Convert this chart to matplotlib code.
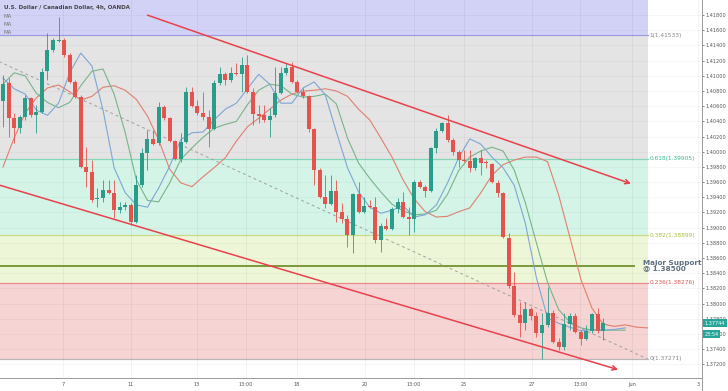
import numpy as np
import matplotlib
matplotlib.use("Agg")
import matplotlib.pyplot as plt

# --- 4h candles (USD/CAD, OANDA) ---
opens = [1.40668, 1.40906, 1.40445, 1.40313, 1.40458, 1.40708, 1.40484, 1.40524, 1.41064, 1.41340,
         1.41460, 1.41472, 1.41274, 1.40919, 1.40721, 1.39799, 1.39733, 1.39377, 1.39391, 1.39496,
         1.39456, 1.39233, 1.39272, 1.39298, 1.39074, 1.39562, 1.39983, 1.40168, 1.40115, 1.40589,
         1.40445, 1.40142, 1.39904, 1.40128, 1.40787, 1.40603, 1.40510, 1.40458, 1.40300, 1.40906,
         1.41024, 1.40945, 1.41037, 1.41024, 1.41143, 1.40787, 1.40497, 1.40484, 1.40418, 1.40484,
         1.40774, 1.41037, 1.41116, 1.40919, 1.40787, 1.40734, 1.40300, 1.39759, 1.39404, 1.39312,
         1.39483, 1.39206, 1.39114, 1.38903, 1.39443, 1.39206, 1.39285, 1.39272, 1.38837, 1.39022,
         1.38982, 1.39246, 1.39338, 1.39140, 1.39114, 1.39601, 1.39535, 1.39483, 1.40049, 1.40273,
         1.40379, 1.40155, 1.39997, 1.39891, 1.39878, 1.39786, 1.39918, 1.39862, 1.39839, 1.39588,
         1.39456, 1.38864, 1.38231, 1.37849, 1.37744, 1.37928, 1.37836, 1.37612, 1.37717, 1.37876,
         1.37494, 1.37428, 1.37731, 1.37836, 1.37625, 1.37533, 1.37638, 1.37862, 1.37638]
highs = [1.41011, 1.40971, 1.40510, 1.40484, 1.40748, 1.40721, 1.40616, 1.41103, 1.41564, 1.41498,
         1.41775, 1.41498, 1.41301, 1.40945, 1.40748, 1.40062, 1.39891, 1.39522, 1.39628, 1.39628,
         1.39628, 1.39338, 1.39338, 1.39325, 1.39694, 1.40049, 1.40286, 1.40286, 1.40655, 1.40616,
         1.40458, 1.40155, 1.40247, 1.40853, 1.40853, 1.40682, 1.40787, 1.40550, 1.40945, 1.41116,
         1.41050, 1.41116, 1.41169, 1.41248, 1.41274, 1.40840, 1.40616, 1.40616, 1.40576, 1.41116,
         1.41116, 1.41169, 1.41182, 1.40945, 1.40840, 1.40748, 1.40313, 1.39786, 1.39694, 1.39694,
         1.39628, 1.39325, 1.39167, 1.39456, 1.39601, 1.39404, 1.39364, 1.39404, 1.39061, 1.39127,
         1.39272, 1.39391, 1.39470, 1.39272, 1.39628, 1.39628, 1.39562, 1.40062, 1.40313, 1.40392,
         1.40484, 1.40181, 1.40023, 1.40023, 1.40023, 1.39931, 1.40023, 1.39891, 1.39852, 1.39628,
         1.39470, 1.38930, 1.38416, 1.38021, 1.38021, 1.37955, 1.37889, 1.37876, 1.38218, 1.37915,
         1.37546, 1.37876, 1.37876, 1.37876, 1.37652, 1.37717, 1.37876, 1.37941, 1.37810]
lows = [1.40326, 1.40194, 1.40115, 1.40247, 1.40418, 1.40458, 1.40247, 1.40510, 1.40945, 1.41314,
        1.41446, 1.41248, 1.40906, 1.40708, 1.39786, 1.39535, 1.39338, 1.39272, 1.39338, 1.39443,
        1.39127, 1.39193, 1.39233, 1.39035, 1.39061, 1.39535, 1.39759, 1.40089, 1.40089, 1.40418,
        1.40128, 1.39891, 1.39865, 1.40115, 1.40589, 1.40484, 1.40418, 1.40062, 1.40286, 1.40879,
        1.40879, 1.40919, 1.41011, 1.40787, 1.40774, 1.40352, 1.40379, 1.40392, 1.40194, 1.40458,
        1.40761, 1.41011, 1.40906, 1.40774, 1.40708, 1.40260, 1.39562, 1.39391, 1.39259, 1.39298,
        1.39074, 1.39061, 1.38745, 1.38666, 1.39193, 1.39193, 1.39259, 1.38798, 1.38679, 1.38969,
        1.38969, 1.39193, 1.39127, 1.38903, 1.38943, 1.39522, 1.39404, 1.39470, 1.39983, 1.40260,
        1.40128, 1.39957, 1.39799, 1.39865, 1.39733, 1.39759, 1.39694, 1.39786, 1.39588, 1.39404,
        1.38864, 1.38205, 1.37823, 1.37559, 1.37652, 1.37783, 1.37559, 1.37271, 1.37691, 1.37480,
        1.37388, 1.37388, 1.37652, 1.37612, 1.37454, 1.37520, 1.37612, 1.37612, 1.37520]
closes = [1.40892, 1.40445, 1.40313, 1.40458, 1.40708, 1.40484, 1.40524, 1.41050, 1.41340, 1.41472,
          1.41475, 1.41274, 1.40919, 1.40721, 1.39799, 1.39733, 1.39364, 1.39391, 1.39496, 1.39456,
          1.39233, 1.39272, 1.39298, 1.39074, 1.39562, 1.39983, 1.40168, 1.40102, 1.40589, 1.40445,
          1.40142, 1.39904, 1.40128, 1.40787, 1.40603, 1.40510, 1.40458, 1.40300, 1.40906, 1.41024,
          1.40945, 1.41037, 1.41024, 1.41143, 1.40787, 1.40497, 1.40471, 1.40418, 1.40471, 1.40774,
          1.41037, 1.41103, 1.40919, 1.40787, 1.40734, 1.40300, 1.39759, 1.39404, 1.39312, 1.39483,
          1.39206, 1.39114, 1.38903, 1.39443, 1.39206, 1.39285, 1.39272, 1.38837, 1.39022, 1.38982,
          1.39246, 1.39338, 1.39140, 1.39114, 1.39601, 1.39535, 1.39483, 1.40049, 1.40273, 1.40379,
          1.40155, 1.39997, 1.39891, 1.39878, 1.39786, 1.39918, 1.39852, 1.39852, 1.39601, 1.39456,
          1.38877, 1.38231, 1.37849, 1.37744, 1.37928, 1.37836, 1.37612, 1.37717, 1.37876, 1.37494,
          1.37428, 1.37731, 1.37836, 1.37625, 1.37533, 1.37638, 1.37862, 1.37638, 1.37744]

# --- three displaced moving averages, sampled every 2 bars ---
ma_blue_bars = list(range(0, 113, 2))
ma_blue = [1.4097, 1.4083, 1.4076, 1.4055, 1.4048, 1.4064, 1.4104, 1.4130, 1.4113, 1.4055,
           1.3979, 1.3946, 1.3930, 1.3927, 1.3952, 1.3981, 1.4016, 1.4025, 1.4026, 1.4042,
           1.4056, 1.4064, 1.4083, 1.4102, 1.4089, 1.4064, 1.4064, 1.4084, 1.4092, 1.4075,
           1.4026, 1.3979, 1.3947, 1.3927, 1.3919, 1.3923, 1.3929, 1.3914, 1.3917, 1.3930,
           1.3959, 1.3992, 1.4017, 1.4010, 1.3993, 1.3979, 1.3956, 1.3906, 1.3834, 1.3781,
           1.3774, 1.3769, 1.3764, 1.3766, 1.3765, 1.3766, 1.3768]
ma_green_bars = list(range(0, 113, 2))
ma_green = [1.4089, 1.4104, 1.4100, 1.4077, 1.4065, 1.4058, 1.4065, 1.4087, 1.4106, 1.4109,
            1.4076, 1.4025, 1.3963, 1.3936, 1.3934, 1.3959, 1.3990, 1.4005, 1.4019, 1.4031,
            1.4036, 1.4040, 1.4062, 1.4081, 1.4089, 1.4087, 1.4076, 1.4072, 1.4073, 1.4076,
            1.4063, 1.4018, 1.3985, 1.3965, 1.3947, 1.3931, 1.3922, 1.3917, 1.3918, 1.3923,
            1.3944, 1.3975, 1.3993, 1.4001, 1.4006, 1.4001, 1.3976, 1.3933, 1.3880, 1.3828,
            1.3792, 1.3776, 1.3768, 1.3765, 1.3765, 1.3765, 1.3765]
ma_red_bars = list(range(0, 117, 2))
ma_red = [1.3980, 1.4018, 1.4051, 1.4071, 1.4084, 1.4088, 1.4079, 1.4068, 1.4073, 1.4085,
          1.4087, 1.4081, 1.4069, 1.4047, 1.4016, 1.3977, 1.3959, 1.3954, 1.3967, 1.3979,
          1.3992, 1.4014, 1.4033, 1.4044, 1.4056, 1.4068, 1.4076, 1.4080, 1.4081, 1.4083,
          1.4080, 1.4073, 1.4056, 1.4042, 1.4018, 1.3993, 1.3963, 1.3938, 1.3921, 1.3914,
          1.3915, 1.3921, 1.3926, 1.3946, 1.3969, 1.3983, 1.3989, 1.3993, 1.3993, 1.3987,
          1.3943, 1.3888, 1.3832, 1.3794, 1.3773, 1.3770, 1.3772, 1.3769, 1.3768]

# --- drawings ---
fib_anchor_bars = [-11, 116]
fib_ratios = [1, 0.618, 0.382, 0.236, 0]
fib_levels = [1.41533, 1.39905, 1.38899, 1.38276, 1.37271]
support_level = 1.38500
channel_upper = ([26, 113], [1.4180, 1.3958])
channel_lower = ([-0.6, 110.7], [1.3956, 1.3713])

x_tick_bars = [10.8, 23.0, 34.9, 43.7, 52.9, 65.2, 74.0, 83.0, 95.2, 103.9, 113.2, 125.1]
x_tick_labels = ["7", "11", "13", "13:00", "18", "20", "13:00", "25", "27", "13:00", "Jun", "3"]
last_price = closes[-1]

GREEN = "#2a9d8a"
RED = "#e5534f"
YMIN, YMAX = 1.37020, 1.41999

fig = plt.figure(figsize=(7.28, 3.91), dpi=100)
ax = fig.add_axes([0, 13 / 391, 702 / 728, 378 / 391])
ax.set_xlim(-0.54, 125.8)
ax.set_ylim(YMIN, YMAX)

# fib zones
xz = [ax.get_xlim()[0], fib_anchor_bars[1]]
zone_colors = ["#d2d2f6", "#e4e4e4", "#d4f4e8", "#eef6d8", "#f6d4d4"]
bounds = [YMAX] + fib_levels
for k, col in enumerate(zone_colors):
    ax.fill_between(xz, bounds[k + 1], bounds[k], color=col, lw=0, zorder=0)
line_colors = ["#9c9ce0", "#84d8b8", "#c8dc8c", "#e88a8a", "#b8b8b8"]
text_colors = ["#888888", "#3cb88f", "#a9c23f", "#e05454", "#888888"]
for lev, r, lc, tc in zip(fib_levels, fib_ratios, line_colors, text_colors):
    ax.plot(xz, [lev, lev], color=lc, lw=0.9, zorder=1)
    ax.text(fib_anchor_bars[1] + 0.3, lev, f"{r}({lev:.5f})", color=tc, fontsize=4.2,
            va="center", ha="left", zorder=6)

# grid
for xb in x_tick_bars:
    ax.axvline(xb, color="#000000", alpha=0.05, lw=0.6, zorder=1)
yt = np.arange(1.372, 1.4185, 0.002)
for yv in yt:
    ax.axhline(yv, color="#000000", alpha=0.04, lw=0.6, zorder=1)

# fib trend line
ax.plot(fib_anchor_bars, [fib_levels[0], fib_levels[-1]], color="#a0a0a0", lw=0.7,
        ls=(0, (3, 3)), zorder=2)

# support
ax.plot([ax.get_xlim()[0], 113.5], [support_level] * 2, color="#7a9a3c", lw=1.4, zorder=2)
ax.text(115.2, support_level, "Major Support\n@ 1.38500", color="#5f6e7e", fontsize=5.2,
        fontweight="bold", va="center", ha="left", linespacing=0.95, zorder=6)

# moving averages
ax.plot(ma_red_bars, ma_red, color="#e0806e", lw=0.8, zorder=3)
ax.plot(ma_green_bars, ma_green, color="#78b48a", lw=0.8, zorder=3)
ax.plot(ma_blue_bars, ma_blue, color="#7ea6d6", lw=0.8, zorder=3)

# candles
o = np.array(opens)
c = np.array(closes)
h = np.array(highs)
lo = np.array(lows)
idx = np.arange(len(o))
cols = np.where(c >= o, GREEN, RED)
ax.vlines(idx, lo, h, colors=cols, lw=0.6, zorder=4)
body = np.maximum(np.abs(c - o), 0.00004)
ax.bar(idx, body, bottom=np.minimum(o, c), width=0.72, color=cols, lw=0, zorder=5)

# channel
for (xs, ys) in (channel_upper, channel_lower):
    ax.annotate("", xy=(xs[1], ys[1]), xytext=(xs[0], ys[0]),
                arrowprops=dict(arrowstyle="->", color="#e8414c", lw=1.1, mutation_scale=8,
                                shrinkA=0, shrinkB=0), zorder=6)

# axes styling
ax.yaxis.tick_right()
ax.set_yticks(yt)
ax.set_yticklabels([f"{v:.5f}" for v in yt])
ax.set_xticks(x_tick_bars)
ax.set_xticklabels(x_tick_labels)
ax.tick_params(axis="both", labelsize=3.6, colors="#555555", length=1.5, width=0.5, pad=0.8)
ax.tick_params(axis="x", length=0, pad=3)
for s in ("top", "left"):
    ax.spines[s].set_visible(False)
ax.spines["right"].set_color("#9a9a9a")
ax.spines["bottom"].set_color("#9a9a9a")
ax.spines["right"].set_linewidth(0.7)
ax.spines["bottom"].set_linewidth(0.7)
fig.add_artist(plt.Line2D([702 / 728] * 2, [0, 13 / 391], color="#9a9a9a", lw=0.7))

# last price tag
yfrac = (last_price - YMIN) / (YMAX - YMIN)
ax.text(1.004, yfrac, f"{last_price:.5f}", transform=ax.transAxes, fontsize=3.6,
        color="white", va="center", ha="left",
        bbox=dict(boxstyle="square,pad=0.3", fc="#26a69a", ec="none"), zorder=7, clip_on=False)
ax.text(1.004, yfrac - 0.03, "23:54", transform=ax.transAxes, fontsize=3.6,
        color="white", va="center", ha="left",
        bbox=dict(boxstyle="square,pad=0.3", fc="#26a69a", ec="none"), zorder=7, clip_on=False)

# header
ax.text(0.005, 0.988, "U.S. Dollar / Canadian Dollar, 4h, OANDA", transform=ax.transAxes,
        fontsize=4.0, color="#444444", fontweight="semibold", va="top", ha="left", zorder=7)
for k in range(3):
    ax.text(0.005, 0.962 - k * 0.021, "MA", transform=ax.transAxes, fontsize=4.0,
            color="#777777", va="top", ha="left", zorder=7)

fig.savefig("out.png", dpi=100)
